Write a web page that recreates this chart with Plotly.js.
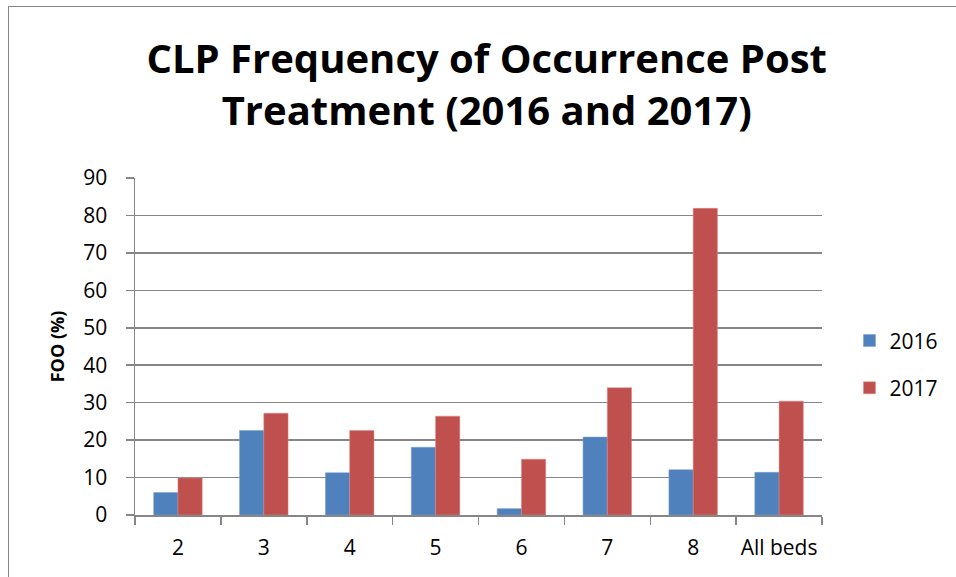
<!DOCTYPE html>
<html>
<head>
<meta charset="utf-8">
<script src="https://cdn.plot.ly/plotly-3.0.1.min.js"></script>
<style>
  html, body { margin: 0; padding: 0; background: #ffffff; }
  #wrap { position: relative; width: 956px; height: 577px; overflow: hidden; }
  #chart { width: 956px; height: 577px; }
  #frame { position: absolute; left: 8px; top: 6px; width: 960px; height: 600px;
           border-left: 1.5px solid #868686; border-top: 1.5px solid #868686; pointer-events: none; }
</style>
</head>
<body>
<div id="wrap">
  <div id="chart"></div>
  <div id="frame"></div>
</div>
<script>
const categories = ["2", "3", "4", "5", "6", "7", "8", "All beds"];
const values2016 = [6.0, 22.6, 11.3, 18.1, 1.7, 20.8, 12.1, 11.4];
const values2017 = [9.9, 27.2, 22.6, 26.4, 14.9, 34.0, 81.9, 30.4];
const seriesNames = ["2016", "2017"];
const yTicks = [0, 10, 20, 30, 40, 50, 60, 70, 80, 90];

const font = "'Open Sans', Lato, sans-serif";
const gray = "#868686";

const traces = [
  { type: "bar", name: seriesNames[0], x: categories, y: values2016, legendgroup: "a",
    marker: { color: "#4F81BD", line: { color: "#7a9fd0", width: 0.5 } } },
  { type: "bar", name: seriesNames[1], x: categories, y: values2017, legendgroup: "b",
    marker: { color: "#C0504D", line: { color: "#d98a88", width: 0.5 } } }
];

const layout = {
  width: 956, height: 577,
  paper_bgcolor: "#ffffff", plot_bgcolor: "#ffffff",
  margin: { l: 135, r: 131, t: 178, b: 62 },
  font: { family: font, color: "#000000", size: 21 },
  title: {
    text: "CLP Frequency of Occurrence Post<br>Treatment (2016 and 2017)",
    font: { family: font, size: 40, color: "#000000", weight: 700 },
    x: 0.512, xanchor: "center", xref: "paper",
    y: 1 - 73 / 577, yanchor: "top", yref: "container"
  },
  barmode: "group",
  bargap: 0.435,
  bargroupgap: 0,
  showlegend: true,
  legend: {
    x: 1.04, xanchor: "left", y: 0.447, yanchor: "middle",
    font: { family: font, size: 21, color: "#000000" },
    traceorder: "grouped", tracegroupgap: 17,
    bgcolor: "rgba(0,0,0,0)", borderwidth: 0
  },
  xaxis: {
    type: "category",
    showgrid: false,
    showline: true, linecolor: gray, linewidth: 1.5,
    ticks: "outside", tickson: "boundaries", ticklen: 8, tickcolor: gray, tickwidth: 1.5,
    tickfont: { family: font, size: 21, color: "#000000" },
    tickangle: 0,
    ticklabelstandoff: 13,
    zeroline: false
  },
  yaxis: {
    range: [0, 90],
    tickmode: "array", tickvals: yTicks, ticktext: yTicks.map(String),
    showgrid: true, gridcolor: gray, gridwidth: 1.5,
    showline: true, linecolor: gray, linewidth: 1.5,
    ticks: "outside", ticklen: 8, tickcolor: gray, tickwidth: 1.5,
    tickfont: { family: font, size: 21, color: "#000000" },
    ticklabelstandoff: 14,
    zeroline: false,
    title: { text: "FOO (%)", font: { family: font, size: 18, color: "#000000", weight: 700 }, standoff: 14 }
  }
};

Plotly.newPlot("chart", traces, layout, { displayModeBar: false, staticPlot: true });
</script>
</body>
</html>
